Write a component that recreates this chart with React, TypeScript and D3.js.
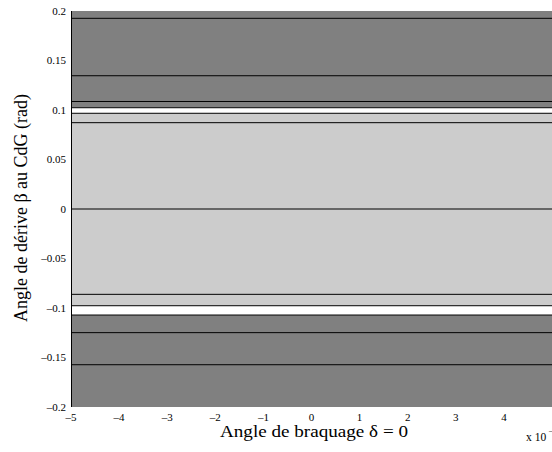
import React from "react";
import * as d3 from "d3";

const xTicks = [-5, -4, -3, -2, -1, 0, 1, 2, 3, 4];
const yTicks = [0.2, 0.15, 0.1, 0.05, 0, -0.05, -0.1, -0.15, -0.2];
// Shaded bands (top, bottom, fill)
const bandTops = [0.2, 0.1023, 0.0967, -0.0977, -0.1071];
const bandBottoms = [0.1023, 0.0967, -0.0977, -0.1071, -0.2];
const bandFills = ["#808080", "#ffffff", "#cccccc", "#ffffff", "#808080"];
// Horizontal black lines
const lineValues = [0.1926, 0.1346, 0.1086, 0.1023, 0.0967, 0.0872, 0, -0.0862, -0.0977, -0.1071, -0.1249, -0.1573];

const fmt = (v: number) => String(v).replace("-", "\u2013");

export default function App() {
  const W = 552, H = 452;
  const left = 71, right = 552, top = 11, bottom = 407;
  const x = d3.scaleLinear().domain([-5, 5]).range([left, right]);
  const y = d3.scaleLinear().domain([-0.2, 0.2]).range([bottom, top]);
  const font = "'Liberation Serif', 'Times New Roman', Times, serif";
  return (
    <svg width={W} height={H} style={{ position: "absolute", left: 0, top: 0, fontFamily: font }}>
      <rect x={0} y={0} width={W} height={H} fill="#fff" />
      {bandTops.map((t, i) => (
        <rect key={"b" + i} x={x(-5)} y={y(t)} width={x(5) - x(-5)} height={y(bandBottoms[i]) - y(t)} fill={bandFills[i]} />
      ))}
      {lineValues.map((v, i) => (
        <line key={"l" + i} x1={x(-5)} x2={x(5)} y1={y(v)} y2={y(v)} stroke="#000" strokeWidth={1} />
      ))}
      <line x1={left + 0.5} x2={left + 0.5} y1={top} y2={bottom} stroke="#000" strokeWidth={1} />
      {yTicks.map((v, i) => (
        <text key={"yt" + i} x={66} y={y(v)} dy="0.35em" textAnchor="end" fontSize={11}>{fmt(v)}</text>
      ))}
      {xTicks.map((v, i) => (
        <text key={"xt" + i} x={x(v)} y={421} textAnchor="middle" fontSize={11}>{fmt(v)}</text>
      ))}
      <text x={220} y={437} fontSize={17} textLength={188} lengthAdjust="spacingAndGlyphs">Angle de braquage δ = 0</text>
      <text transform={`translate(27,208) rotate(-90)`} textAnchor="middle" fontSize={18}>Angle de dérive β au CdG (rad)</text>
      <text x={526} y={441} fontSize={11.5}>x 10<tspan x={549} y={433} fontSize={8}>{"\u20133"}</tspan></text>
    </svg>
  );
}
